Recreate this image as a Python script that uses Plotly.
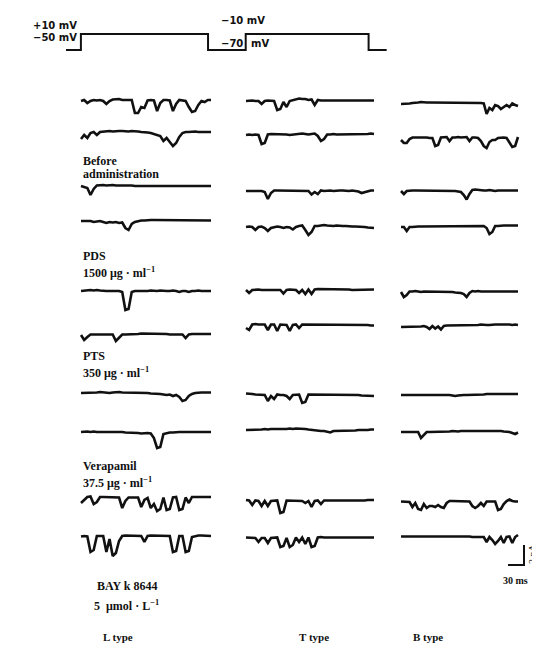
import plotly.graph_objects as go

W, H = 540, 648

# ---------------- data (pA, sampled every 6 ms) ----------------
SAMPLE_MS = 6

L_traces = [
    [0,0.1,-0.2,0,0.1,0.05,0.1,0,-0.3,0,0.15,0.2,0.2,0.1,0.1,0.15,0.1,-1.2,-1.2,-0.6,-0.7,0.05,0.1,0.05,-1.0,-0.2,0.1,0.1,0.05,-1.0,-0.3,0.1,0.05,0,-0.6,-1.1,-1.0,-0.4,0,-0.1,0.1,0.1],
    [-0.6,-0.2,-0.5,0,0.1,-0.2,0.1,0.15,0.2,0.2,0.15,0.2,0.2,0.2,0.15,0.15,0.2,0.2,0.15,0.1,0.1,0.05,0,-0.1,-0.2,-0.3,-0.8,-0.5,-0.9,-1.3,-1.0,-0.4,0,0.1,0.1,0.15,0.15,0.1,0.1,0.15,0.1,0.1],
    [0,-0.1,-0.2,-0.9,-0.3,0.05,0.1,0.1,0.05,0.1,0.1,0.05,0.05,0.1,0.1,0.05,0.05,0,0,0.05,0,0,0.05,0,0,0,0.05,0,0,0.05,0,0,0,0.05,0,0,0,0.05,0,0,0,0],
    [0,0,-0.05,0,-0.1,-0.05,0,-0.1,-0.2,-0.1,-0.15,-0.1,-0.2,-0.15,-0.7,-0.9,-0.3,-0.1,0,0.05,0.05,0.1,0.1,0.1,0.1,0.1,0.1,0.05,0.1,0.1,0.1,0.05,0.1,0.1,0.05,0.1,0.1,0.05,0.05,0.1,0.1,0.05],
    [0,0.05,0.1,0.1,0.05,0.1,0.05,0,0,0,0,0,0,-0.1,-1.9,-1.8,-0.1,0,0,-0.05,0,0,0.05,0,0,0.05,0,0,0,0.05,0,-0.1,0,0,-0.1,0,0,0.05,0,0,0,0],
    [0,-0.5,-0.2,0.05,0.05,0.05,0.05,0.05,0.05,0.05,0.05,-0.6,-0.3,0.05,0.05,0.05,0.1,0.1,0.1,0.15,0.15,0.15,0.1,0.15,0.15,0.1,0.1,0.1,0.05,0.05,0.05,0.05,0.05,-0.3,0.05,0.1,0.1,0.1,0.1,0.15,0.1,0.1],
    [0,0,0.05,0.05,0,0.05,0.1,0.05,0.05,0,0.05,0.1,0.1,0.05,0.05,0.05,0,0,0,0.05,0,0,-0.05,-0.05,-0.1,-0.1,-0.15,-0.2,-0.15,-0.3,-0.2,-0.4,-0.8,-0.7,-0.3,-0.1,0,0.05,0.05,0.05,0.05,0.05],
    [0,0.05,0.05,0,0.05,0,0,0.05,0,0,0,0,0,0,-0.05,-0.05,-0.1,-0.1,-0.1,-0.15,-0.1,-0.1,-0.15,-0.6,-1.6,-1.5,-0.2,-0.1,-0.05,-0.05,0,0,0,0,-0.05,0,0,0,0,0,0,0],
    [-0.5,-0.2,0.1,0.15,-0.6,-0.4,0.1,0.1,0.1,0.1,0.1,0.05,0.05,-1.0,-0.3,0.05,0.05,0.05,0.05,-0.9,-0.2,0.0,-1.0,-0.6,-1.3,-1.1,0.05,-1.2,-1.1,0.05,0.1,-1.2,-1.1,0.05,-0.5,0.1,0.1,0.1,0.1,0.1,0.1,0.1],
    [0.05,0.1,0.05,-1.5,-1.3,0.1,0.1,0.1,-1.5,-0.2,-1.9,-1.6,-0.4,0.1,0.15,0.15,0.15,0.15,0.1,0.1,-0.5,0.1,0.15,0.15,0.15,0.15,0.15,0.1,0.1,-1.5,-1.4,0.1,0.1,-1.5,-1.4,0,0.1,0.15,0.15,0.15,0.1,0.1],
]

T_traces = [
    [0,0.05,0.05,0,0,-0.3,0,0.05,0.05,0,-0.9,-0.8,-0.1,-0.6,0,0.1,0.2,0.25,0.2,0.2,0.1,0.15,-0.4,0.1,0.05,0.05,0.05,0,0.05,0.05,0,0,0.05,0.05,0,0,0.05,0.05,0.05,0.05,0.05,0.05],
    [0,0.05,0,0.05,0,-0.9,-0.8,0.05,0.1,0.1,0.1,0.05,0.05,0.05,0,0.05,0.1,0.1,0.15,0.1,0.05,0.1,0.15,-0.1,-0.6,-0.4,0.05,0.05,0.1,0.05,0.05,0.1,0.05,0.05,0.1,0.05,0.05,0.05,0.1,0.1,0.15,0.1],
    [0,0,0.05,0,0,0,-0.1,-0.8,-0.2,0.05,0.05,0.05,0.05,0.05,0.05,0,0.05,0.05,0.05,0.05,0,-0.35,-0.1,-0.3,0.05,0,0.05,0.05,0,0.05,0.05,0.05,0,0,0.05,0,-0.05,-0.2,-0.1,0,0.05,0.05],
    [0,0.05,0,-0.3,0,0.05,-0.1,-0.4,-0.1,0,0.05,0,-0.1,0,-0.05,-0.25,0,0.1,0.15,-0.3,-0.8,-0.5,0.1,0.1,0.15,0.2,0.15,0.1,0.1,0.15,0.1,0.1,0.1,0.05,0.05,0.05,0.05,0,0,-0.05,-0.1,-0.1],
    [0,-0.3,0,0.05,0.05,0,0,0,0.05,0,0,0,-0.35,0,0.05,0,0,-0.3,0,-0.4,0.05,-0.4,0.05,0.1,0.1,0.1,0.05,0.05,0.05,0.05,0.05,0.05,0.05,0.05,0,0,0.05,0.05,0.05,0.05,0.05,0.05],
    [-0.3,-0.5,0.05,0.1,0.05,0.05,0.05,-0.5,0.05,0.05,-0.6,0.05,0.05,0,-0.6,0,0.05,-0.3,0.05,0.05,0.05,0.05,0.05,0.05,0.05,0.05,0.05,0.05,0,0,0.05,0.05,0.05,0,0,0.05,0.05,0.05,0,0,-0.05,-0.05],
    [0.15,0.15,0.1,0.05,0.05,0,0,-0.6,-0.1,-0.4,0.05,0,0,-0.1,-0.4,0,0.05,0.05,-0.8,-0.7,0.05,0.05,0.05,0.05,0.05,0.05,0.05,0,0,0,0.05,0,0,0,0,0,0,-0.05,-0.05,-0.1,-0.1,-0.1],
    [0,0,0.05,0,0.05,0.05,0.1,0.05,0.1,0.1,0.05,0.1,0.1,0.1,0.15,0.1,0.15,0.15,0.1,0.1,0.05,0,-0.05,-0.1,-0.1,-0.1,-0.15,-0.25,-0.1,-0.1,-0.1,-0.05,-0.05,-0.1,-0.05,-0.05,0,0,-0.05,0,0.05,0.05],
    [0.1,0.05,-0.4,0.05,0,-0.5,0,-0.5,0,0.05,0.05,-1.2,-1.1,0.05,0.05,0.05,0.05,0.05,0,-0.2,0,-0.6,0,0.05,-0.3,0.05,0.05,0.05,0.05,0.05,0,0,0.05,0,0,0,0,0.05,0.05,0.1,0.1,0.1],
    [0.05,0.05,0.05,0,-0.4,0,0,-0.5,0,0.05,0.05,-0.9,-0.8,0,-0.9,-0.7,0.05,-0.4,0.05,-0.6,0.05,-0.9,-0.8,0.05,0.1,0.05,0.05,0,0,0.05,0.05,0,0,0,0.05,0.05,0,0,0,0,0.05,0.05],
]

B_traces = [
    [0,0,0.05,0.05,0.1,0.1,0.15,0.2,0.15,0.15,0.15,0.15,0.15,0.15,0.15,0.15,0.15,0.15,0.15,0.15,0.1,0.1,0.1,0.1,0.1,0.1,0.1,0.1,0.1,0.05,-1.0,-0.4,-0.6,-0.1,-0.2,-0.5,-0.3,-0.1,-0.3,0.05,-0.1,-0.2],
    [-0.2,-0.5,-0.5,-0.1,0.05,0.05,0.1,0.1,0.1,0.05,0,0,-0.8,-0.7,0.05,0.05,0.1,-0.3,0.05,0.05,0.1,0.05,0.05,0.1,-0.3,0.05,0.05,0,-0.3,-0.8,-1.0,-0.4,-0.2,-0.2,0,0.05,0.05,0,-0.4,-0.9,-0.8,0.1],
    [0,-0.3,0,0.05,0.05,0.05,0.05,0.05,0.05,0,0,0.05,0.05,0,0,0,0.05,0,0,0,-0.05,-0.1,-0.4,-0.85,-0.3,0.1,0.15,0.1,0.05,0.05,0.05,0.1,0.05,0,0.05,0.05,0.1,0.05,0.1,0.05,0.05,0.05],
    [0,0,-0.4,0,0,0.05,0.05,0.05,0.05,0.05,0.05,0.05,0.1,0.1,0.1,0.1,0.1,0.1,0.1,0.1,0.1,0.1,0.1,0.1,0.1,0.1,0.1,0.1,0.1,0.1,-0.1,-0.7,-0.5,0.1,0.1,0.15,0.15,0.15,0.15,0.2,0.15,0.15],
    [0,-0.5,-0.3,0.05,0.05,0.1,0.05,0,0.05,0.05,0.05,0,0,0,0.05,0,0,0,0,-0.05,-0.05,-0.1,-0.2,-0.5,-0.1,0.1,0.05,0.1,0.05,0.05,0.1,0.05,0.05,0.05,0.1,0.05,0.1,0.05,0.05,0.1,0.05,0.05],
    [-0.1,-0.1,-0.05,-0.1,-0.05,-0.05,-0.1,-0.05,0,-0.1,-0.3,0,-0.25,-0.05,-0.35,0,0.05,0.05,0.05,0.1,0.1,0.1,0.1,0.1,0.1,0.1,0.1,0.1,0.15,0.1,0.1,0.1,0.15,0.15,0.15,0.15,0.2,0.2,0.15,0.1,0.15,0.1],
    [0,0,0,0.05,0,0,0,0,0,0,0.05,0,0,0,0,0,0,0,-0.05,-0.1,-0.05,0,0,0,0,0.05,0.05,0.05,0.05,0.05,0.1,0.1,0.1,0.1,0.1,0.1,0.1,0.1,0.1,0.1,0.1,0.1],
    [0,0,0,0.05,0,0,0,-0.6,-0.3,0,0,0,0.05,0.05,0.05,0.05,0.05,0.05,0.1,0.05,0.05,0.1,0.1,0.1,0.1,0.1,0.1,0.15,0.15,0.1,0.1,0.15,0.1,0.1,0.1,0.1,0.05,0.05,0,-0.1,-0.2,-0.05],
    [0.05,0.05,0.05,0,-0.5,-0.1,-0.7,-0.8,-0.2,-0.6,-0.4,-0.4,-0.5,-0.3,-0.5,-0.6,-0.1,0.1,0.1,0.1,0.1,0.1,0.05,0.05,0.05,-0.4,-0.6,-0.4,-0.1,-0.4,0.05,0.05,0.05,0.05,-0.8,-0.7,-0.2,0.1,0.25,0.1,0.05,0.05],
    [0.05,0.05,0.1,0.1,0.1,0.1,0.1,0.1,0.1,0.05,0.05,0.05,0.05,0.05,0.05,0.05,0.05,0.05,0.05,0.05,0.05,0.05,0.05,0.05,0.05,0,0,0,0,0,-0.5,0,-0.3,-0.7,-0.4,0,-0.6,0,0.05,-0.6,0,0.2],
]

# voltage protocols (ms, mV)
prot1_t = [0, 28, 28, 267, 267, 318]
prot1_v = [-50, -50, 10, 10, -50, -50]
prot2_t = [0, 22, 22, 253, 253, 287]
prot2_v = [-70, -70, -10, -10, -70, -70]

# scale bar (30 ms, 2 pA)
bar_t = [0, 30, 30]
bar_i = [0, 0, 2]

# labels
condition_labels = [
    ("Before", 153), ("administration", 166),
    ("PDS", 248), ("1500 μg · ml<sup>−1</sup>", 265),
    ("PTS", 348), ("350 μg · ml<sup>−1</sup>", 365),
    ("Verapamil", 458), ("37.5 μg · ml<sup>−1</sup>", 474),
]
column_names = ["L type", "T type", "B type"]

# ---------------- layout geometry (pixels) ----------------
COLS = [  # left px, right px, baselines
    (73, 203, [93, 125, 178, 213, 283, 327, 385, 424, 490, 529]),
    (238, 366, [93, 127, 183, 219, 282, 317, 387, 422, 493, 530]),
    (393, 510, [96, 130, 183, 219, 284, 318, 387, 424, 494, 529]),
]
PX_PER_PA = 10.0
Y_LO, Y_HI = -2.6, 0.9
PAD = 4  # px padding so lines at the ends are not clipped

fig = go.Figure()
layout = {}
k = [0]

def add_panel(xs, ys, left_px, px_per_x, base_px, px_per_y, ylo, yhi, width=2.6):
    k[0] += 1
    n = k[0]
    xname = "xaxis" if n == 1 else f"xaxis{n}"
    yname = "yaxis" if n == 1 else f"yaxis{n}"
    xmin, xmax = min(xs), max(xs)
    padx = PAD / px_per_x
    dx0 = (left_px - PAD) / W
    dx1 = (left_px + (xmax - xmin) * px_per_x + PAD) / W
    top = base_px - yhi * px_per_y
    bot = base_px - ylo * px_per_y
    layout[xname] = dict(domain=[max(0, dx0), min(1, dx1)], range=[xmin - padx, xmax + padx],
                         visible=False, fixedrange=True, anchor=f"y{n}" if n > 1 else "y")
    layout[yname] = dict(domain=[max(0, 1 - bot / H), min(1, 1 - top / H)], range=[ylo, yhi],
                         visible=False, fixedrange=True, anchor=f"x{n}" if n > 1 else "x")
    fig.add_trace(go.Scatter(x=xs, y=ys, mode="lines",
                             line=dict(color="#111111", width=width, shape="linear"),
                             xaxis="x" if n == 1 else f"x{n}", yaxis="y" if n == 1 else f"y{n}",
                             hoverinfo="skip", showlegend=False))

for (left, right, bases), traces in zip(COLS, [L_traces, T_traces, B_traces]):
    for base, vals in zip(bases, traces):
        t = [i * SAMPLE_MS for i in range(len(vals))]
        ppx = (right - left) / t[-1]
        add_panel(t, vals, left, ppx, base, PX_PER_PA, Y_LO, Y_HI)

# protocols
PX_PER_MS = 0.532
Y_HIGH, Y_LOW = 26, 42
px_per_mv = (Y_LOW - Y_HIGH) / 60.0
add_panel(prot1_t, prot1_v, 58, PX_PER_MS, Y_HIGH + 10 * px_per_mv, px_per_mv, -60, 20, width=2)
add_panel(prot2_t, prot2_v, 226, PX_PER_MS, Y_HIGH - 10 * px_per_mv, px_per_mv, -80, 0, width=2)

# scale bar
add_panel(bar_t, bar_i, 500, 16 / 30, 557, PX_PER_PA, -0.3, 2.3, width=2)

# ---------------- text ----------------
ann = []
def text(s, x, y, size=12, xanchor="left", family="Liberation Serif", angle=0, bold=True):
    ann.append(dict(text=f"<b>{s}</b>" if bold else s, x=x / W, y=1 - y / H,
                    xref="paper", yref="paper",
                    xanchor=xanchor, yanchor="middle", showarrow=False, textangle=angle,
                    borderpad=0,
                    font=dict(family=family, size=size, color="#111111")))

text("+10 mV", 70, Y_HIGH - 9, size=10, xanchor="right", family="DejaVu Sans")
text("−50 mV", 70, Y_HIGH + 4, size=10, xanchor="right", family="DejaVu Sans")
text("−10 mV", 212, Y_HIGH - 13, size=10, family="DejaVu Sans")
text("−70", 236, Y_HIGH + 9, size=10, xanchor="right", family="DejaVu Sans")
text("mV", 242, Y_HIGH + 9, size=10, family="DejaVu Sans")

for s, y in condition_labels:
    text(s, 74, y)
text("BAY k 8644", 88, 578)
text("5  μmol · L<sup>−1</sup>", 85, 597)

for name, cx in zip(column_names, [110, 306, 420]):
    text(name, cx, 629, size=11, xanchor="center")

text("2 pA", 524, 546, size=10, xanchor="center", angle=-90, family="Liberation Serif Bold", bold=False)
text("30 ms", 507, 572, size=10, xanchor="center")

layout.update(width=W, height=H, margin=dict(l=0, r=0, t=0, b=0),
              paper_bgcolor="white", plot_bgcolor="rgba(0,0,0,0)",
              showlegend=False, annotations=ann)
fig.update_layout(**layout)
fig.write_html("out.html")
